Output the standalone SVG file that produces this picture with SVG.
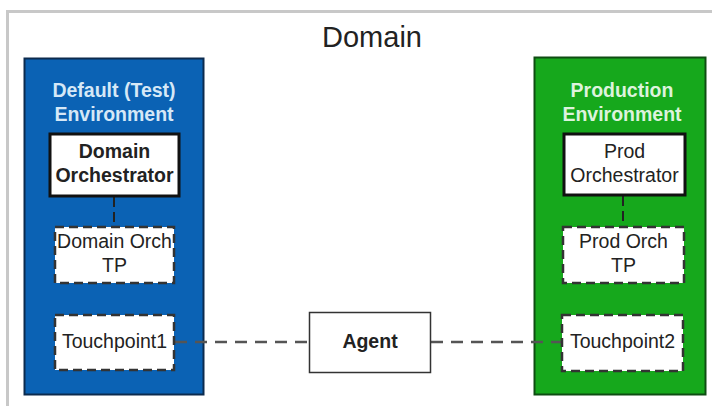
<svg xmlns="http://www.w3.org/2000/svg" width="712" height="406" viewBox="0 0 712 406">
<style>
.env-label{font-family:"Liberation Sans",Arial,sans-serif;font-size:19.5px;font-weight:bold;text-anchor:middle}
.node-text{font-family:"Liberation Sans",Arial,sans-serif;font-size:19.5px;fill:#222;text-anchor:middle}
.solid{fill:#fff;stroke:#111;stroke-width:3}
.dashed{fill:#fff;stroke:#333;stroke-width:2.5;stroke-dasharray:9 5}
.conn{fill:none;stroke:#555;stroke-width:2.5;stroke-dasharray:12 8}
.vconn{fill:none;stroke:#222;stroke-width:2;stroke-dasharray:10 5}
</style>
<rect x="0" y="0" width="712" height="406" fill="#fff"/>
<g id="domain">
<path d="M7.5 420 V11.5 H720" fill="none" stroke="#c8c8c8" stroke-width="3"/>
<text x="372" y="47" font-family="Liberation Sans,Arial,sans-serif" font-size="29" fill="#222" text-anchor="middle">Domain</text>
</g>
<g id="test-env">
<rect x="24.5" y="58.5" width="179" height="336" fill="#0b62b4" stroke="#0c2b4e" stroke-width="2"/>
<text class="env-label" x="114" y="97" fill="#d6e8f7">Default (Test)</text>
<text class="env-label" x="114" y="121" fill="#d6e8f7">Environment</text>
</g>
<g id="prod-env">
<rect x="534.5" y="57.5" width="171" height="337" fill="#16a81c" stroke="#0e4d12" stroke-width="2"/>
<text class="env-label" x="622" y="97" fill="#ddf3dd">Production</text>
<text class="env-label" x="622" y="121" fill="#ddf3dd">Environment</text>
</g>
<g id="connectors">
<line class="vconn" x1="114" y1="197" x2="114" y2="227"/>
<line class="vconn" x1="623" y1="196" x2="623" y2="227"/>
<line class="conn" x1="175" y1="342" x2="309" y2="342"/>
<line class="conn" x1="431" y1="342" x2="562" y2="342"/>
</g>
<g id="domain-orchestrator">
<rect class="solid" x="50" y="134" width="129" height="62"/>
<text class="node-text" x="114.5" y="158" font-weight="bold">Domain</text>
<text class="node-text" x="114.5" y="182" font-weight="bold">Orchestrator</text>
</g>
<g id="domain-orch-tp">
<rect class="dashed" x="55" y="227" width="119" height="56"/>
<text class="node-text" x="114.5" y="248">Domain Orch</text>
<text class="node-text" x="114.5" y="272">TP</text>
</g>
<g id="touchpoint1">
<rect class="dashed" x="55" y="315" width="119" height="55"/>
<text class="node-text" x="114.5" y="348">Touchpoint1</text>
</g>
<g id="prod-orchestrator">
<rect class="solid" x="564" y="134" width="121" height="61"/>
<text class="node-text" x="624.5" y="158">Prod</text>
<text class="node-text" x="624.5" y="182">Orchestrator</text>
</g>
<g id="prod-orch-tp">
<rect class="dashed" x="563" y="227" width="121" height="56"/>
<text class="node-text" x="623.5" y="248">Prod Orch</text>
<text class="node-text" x="623.5" y="272">TP</text>
</g>
<g id="touchpoint2">
<rect class="dashed" x="562" y="315" width="121" height="56"/>
<text class="node-text" x="622.5" y="348">Touchpoint2</text>
</g>
<g id="agent">
<rect x="309.5" y="312.5" width="121" height="60" fill="#fff" stroke="#333" stroke-width="1.5"/>
<text class="node-text" x="370" y="348" font-weight="bold">Agent</text>
</g>
</svg>
